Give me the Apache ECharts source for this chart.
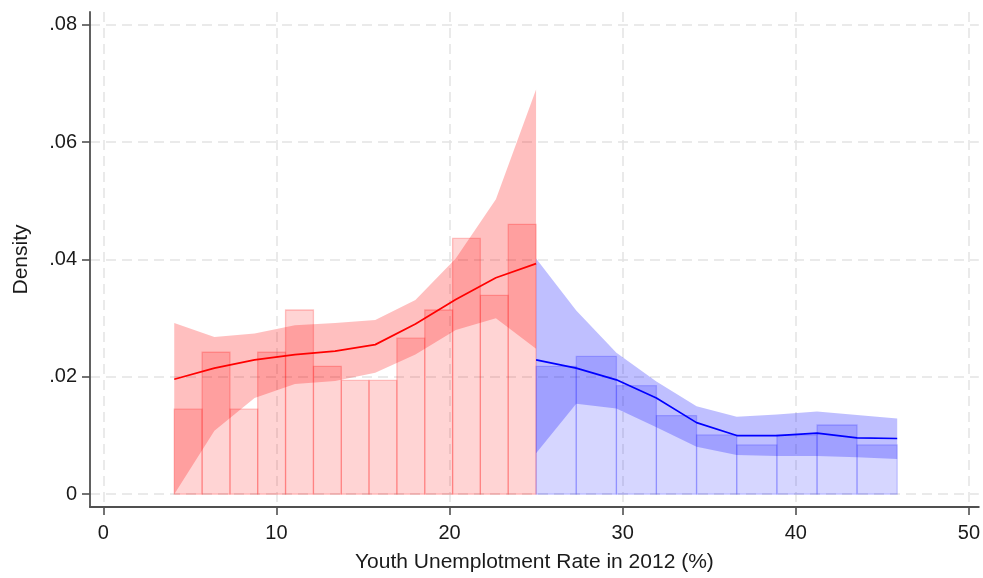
<!DOCTYPE html>
<html>
<head>
<meta charset="utf-8">
<script src="https://cdn.jsdelivr.net/npm/echarts@6/dist/echarts.min.js"></script>
<style>
  html, body { margin: 0; padding: 0; background: #ffffff; }
  #chart { width: 983px; height: 578px; }
</style>
</head>
<body>
<div id="chart"></div>
<script>
// Histogram bin edges (youth unemployment rate, %)
const redEdges  = [4.1, 5.71, 7.32, 8.92, 10.53, 12.14, 13.75, 15.35, 16.96, 18.57, 20.18, 21.78, 23.39, 25.0];
const blueEdges = [25.0, 27.32, 29.64, 31.95, 34.27, 36.59, 38.91, 41.23, 43.54, 45.86];

// Histogram densities per bin
const redDensity  = [0.0145, 0.0242, 0.0145, 0.0242, 0.0314, 0.0218, 0.0194, 0.0194, 0.0266, 0.0314, 0.0436, 0.0339, 0.0460];
const blueDensity = [0.0218, 0.0235, 0.0185, 0.0134, 0.0101, 0.0084, 0.0101, 0.0118, 0.0084];

// Smoothed density fit with confidence band
const redFitX   = [4.1, 6.42, 8.74, 11.07, 13.39, 15.71, 18.03, 20.36, 22.68, 25.0];
const redFit    = [0.0196, 0.0215, 0.0229, 0.0238, 0.0244, 0.0255, 0.0290, 0.0332, 0.0369, 0.0393];
const redLower  = [0.0000, 0.0108, 0.0164, 0.0188, 0.0193, 0.0207, 0.0238, 0.0280, 0.0300, 0.0248];
const redUpper  = [0.0292, 0.0268, 0.0274, 0.0288, 0.0292, 0.0297, 0.0331, 0.0402, 0.0503, 0.0690];

const blueFitX  = [25.0, 27.32, 29.64, 31.95, 34.27, 36.59, 38.91, 41.23, 43.54, 45.86];
const blueFit   = [0.0229, 0.0215, 0.0195, 0.0164, 0.0122, 0.0100, 0.0100, 0.0104, 0.0096, 0.0095];
const blueLower = [0.0070, 0.0154, 0.0146, 0.0114, 0.0081, 0.0067, 0.0065, 0.0065, 0.0063, 0.0060];
const blueUpper = [0.0402, 0.0313, 0.0241, 0.0192, 0.0150, 0.0132, 0.0136, 0.0141, 0.0135, 0.0129];

// Axis ticks
const xTicks = [0, 10, 20, 30, 40, 50];
const yTicks = [0, 0.02, 0.04, 0.06, 0.08];

const FONT = '"Liberation Sans", Arial, sans-serif';

function binData(edges, dens) {
  return dens.map((d, i) => [edges[i], edges[i + 1], d]);
}
function bandData(xs, lo, hi) {
  return xs.map((x, i) => [x, lo[i], hi[i]]);
}

function histSeries(name, data, fill, stroke) {
  return {
    name: name,
    type: 'custom',
    z: 2,
    data: data,
    encode: { x: [0, 1], y: 2 },
    renderItem: function (params, api) {
      const p0 = api.coord([api.value(0), 0]);
      const p1 = api.coord([api.value(1), api.value(2)]);
      return {
        type: 'rect',
        shape: { x: p0[0], y: p1[1], width: p1[0] - p0[0], height: p0[1] - p1[1] },
        style: { fill: fill, stroke: stroke, lineWidth: 1.3 }
      };
    }
  };
}

function bandSeries(name, data, fill) {
  return {
    name: name,
    type: 'custom',
    z: 3,
    data: data,
    encode: { x: 0, y: [1, 2] },
    renderItem: function (params, api) {
      if (params.dataIndex !== 0) return null;
      const n = data.length;
      const pts = [];
      for (let i = 0; i < n; i++) pts.push(api.coord([data[i][0], data[i][2]]));
      for (let i = n - 1; i >= 0; i--) pts.push(api.coord([data[i][0], data[i][1]]));
      return {
        type: 'polygon',
        shape: { points: pts },
        style: { fill: fill, stroke: 'none' }
      };
    }
  };
}

function fitSeries(name, xs, ys, color) {
  return {
    name: name,
    type: 'line',
    z: 5,
    symbol: 'none',
    data: xs.map((x, i) => [x, ys[i]]),
    lineStyle: { color: color, width: 1.7 },
    itemStyle: { color: color }
  };
}

const chart = echarts.init(document.getElementById('chart'), null, { renderer: 'canvas' });

const axisCommon = {
  axisLine: { show: true, onZero: false, lineStyle: { color: '#505050', width: 1.8 } },
  axisTick: { show: true, length: 8, lineStyle: { color: '#505050', width: 1.6 } },
  splitLine: { show: true, lineStyle: { color: '#e4e4e4', width: 1.5, type: [10, 6] } }
};

chart.setOption({
  animation: false,
  backgroundColor: '#ffffff',
  grid: { left: 90, right: 1, top: 12, bottom: 64, containLabel: false },
  xAxis: Object.assign({}, axisCommon, {
    type: 'value',
    min: -0.766,
    max: 50.575,
    axisTick: Object.assign({}, axisCommon.axisTick, { customValues: xTicks }),
    axisLabel: {
      customValues: xTicks,
      color: '#1a1a1a', fontFamily: FONT, fontSize: 20, margin: 16
    },
    name: 'Youth Unemplotment Rate in 2012 (%)',
    nameLocation: 'middle',
    nameGap: 45,
    nameTextStyle: { color: '#1a1a1a', fontFamily: FONT, fontSize: 21 }
  }),
  yAxis: Object.assign({}, axisCommon, {
    type: 'value',
    min: -0.00218,
    max: 0.0822,
    axisTick: Object.assign({}, axisCommon.axisTick, { customValues: yTicks }),
    axisLabel: {
      customValues: yTicks,
      color: '#1a1a1a', fontFamily: FONT, fontSize: 20, margin: 13,
      formatter: function (v) {
        if (v === 0) return '0';
        return v.toFixed(2).replace(/^0/, '');
      }
    },
    name: 'Density',
    nameLocation: 'middle',
    nameGap: 58,
    nameRotate: 90,
    nameTextStyle: { color: '#1a1a1a', fontFamily: FONT, fontSize: 21 }
  }),
  series: [
    histSeries('redHist', binData(redEdges, redDensity), 'rgba(255,0,0,0.17)', 'rgba(255,0,0,0.22)'),
    histSeries('blueHist', binData(blueEdges, blueDensity), 'rgba(0,0,255,0.16)', 'rgba(0,0,255,0.18)'),
    bandSeries('redBand', bandData(redFitX, redLower, redUpper), 'rgba(255,0,0,0.25)'),
    bandSeries('blueBand', bandData(blueFitX, blueLower, blueUpper), 'rgba(0,0,255,0.25)'),
    fitSeries('redFit', redFitX, redFit, '#ff0000'),
    fitSeries('blueFit', blueFitX, blueFit, '#0000ff')
  ]
});
</script>
</body>
</html>
